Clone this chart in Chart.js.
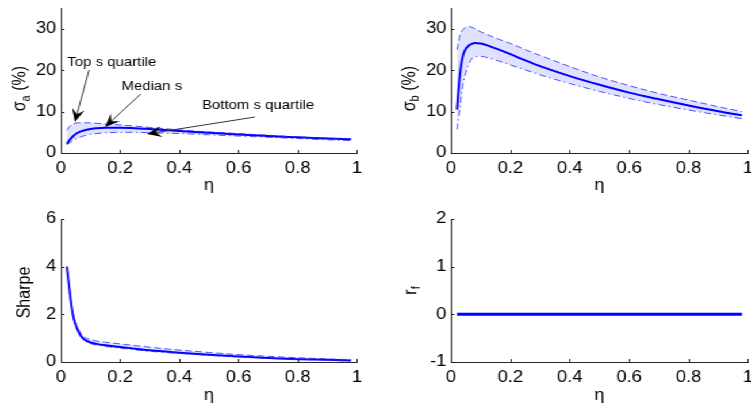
<!DOCTYPE html>
<html>
<head>
<meta charset="utf-8">
<script src="https://cdn.jsdelivr.net/npm/chart.js@4.4.0/dist/chart.umd.min.js"></script>
<style>
  html, body { margin: 0; padding: 0; background: #fff; overflow: hidden; }
  #fig { position: relative; width: 653px; height: 412px; transform: scaleX(1.15); transform-origin: 0 0; }
  #fig canvas { position: absolute; }
</style>
</head>
<body>
<div id="fig">
  <canvas id="sigmaA" width="326" height="202" style="left:0;top:0"></canvas>
  <canvas id="sigmaB" width="327" height="202" style="left:326px;top:0"></canvas>
  <canvas id="sharpe" width="326" height="210" style="left:0;top:202px"></canvas>
  <canvas id="rf" width="327" height="210" style="left:326px;top:202px"></canvas>
</div>
<script>
const eta = [0.02, 0.03, 0.04, 0.05, 0.06, 0.07, 0.08, 0.1, 0.12, 0.15, 0.2, 0.25, 0.3, 0.4, 0.5, 0.6, 0.7, 0.8, 0.9, 0.98];

const sigmaATop    = [5.5, 6.5, 7.0, 7.2, 7.3, 7.3, 7.3, 7.3, 7.2, 7.0, 6.8, 6.5, 6.2, 5.6, 5.1, 4.7, 4.3, 3.9, 3.6, 3.4];
const sigmaAMedian = [2.2, 3.2, 4.0, 4.6, 5.0, 5.3, 5.5, 5.8, 6.0, 6.1, 6.1, 6.0, 5.8, 5.3, 4.9, 4.5, 4.1, 3.8, 3.5, 3.3];
const sigmaABottom = [2.0, 2.5, 3.0, 3.4, 3.7, 4.0, 4.2, 4.5, 4.7, 4.9, 5.0, 5.0, 4.9, 4.7, 4.4, 4.1, 3.8, 3.5, 3.2, 3.0];

const sigmaBTop    = [25, 28.5, 29.8, 30.4, 30.6, 30.4, 30.1, 29.3, 28.7, 27.8, 26.5, 25.0, 23.6, 20.9, 18.4, 16.3, 14.4, 12.8, 11.2, 10.0];
const sigmaBMedian = [10.5, 19, 23.5, 25.2, 26.0, 26.4, 26.6, 26.5, 26.1, 25.3, 23.9, 22.4, 21.0, 18.6, 16.5, 14.6, 13.0, 11.5, 10.1, 9.1];
const sigmaBBottom = [5.7, 11, 16.5, 19.5, 21.5, 22.8, 23.3, 23.4, 23.1, 22.5, 21.3, 20.1, 18.9, 16.8, 14.9, 13.2, 11.7, 10.4, 9.2, 8.3];

const sharpeTop    = [4.0, 2.95, 2.1, 1.65, 1.35, 1.15, 1.03, 0.95, 0.88, 0.83, 0.76, 0.69, 0.62, 0.5, 0.4, 0.31, 0.24, 0.18, 0.13, 0.1];
const sharpeMedian = [4.0, 2.9, 2.0, 1.55, 1.25, 1.05, 0.93, 0.82, 0.76, 0.7, 0.63, 0.56, 0.49, 0.39, 0.3, 0.23, 0.17, 0.12, 0.09, 0.06];
const sharpeBottom = [3.95, 2.85, 1.95, 1.5, 1.2, 1.0, 0.88, 0.77, 0.71, 0.65, 0.58, 0.51, 0.45, 0.36, 0.28, 0.21, 0.15, 0.11, 0.07, 0.04];

const rfMedian = [0, 0, 0, 0, 0, 0, 0, 0, 0, 0, 0, 0, 0, 0, 0, 0, 0, 0, 0, 0];

const etaTicks = [0, 0.2, 0.4, 0.6, 0.8, 1];
const sigmaTicks = [0, 10, 20, 30];
const sharpeTicks = [0, 2, 4, 6];
const rfTicks = [-1, 0, 1, 2];

// labels on the sigma_a panel: text position, arrow tail and arrow tip (eta, sigma)
const noteText = ['Top s quartile', 'Median s', 'Bottom s quartile'];
const noteAt   = [[0.172, 21.8], [0.307, 16.0], [0.666, 11.4]];
const noteTail = [[0.095, 20.1], [0.27, 14.3], [0.655, 8.7]];
const noteTip  = [[0.047, 7.5], [0.149, 6.3], [0.29, 4.6]];

const FONT = '"Liberation Sans", Arial, Helvetica, sans-serif';
const axisColor = '#262626';
const textColor = '#000';
const lineBlue = '#0000ff';
const quartileBlue = 'rgba(40,40,255,0.8)';
const bandColor = 'rgba(0,0,255,0.12)';

Chart.defaults.font.family = FONT;

const axisExtras = {
  id: 'axisExtras',
  afterDraw(chart, args, o) {
    const ctx = chart.ctx, ca = chart.chartArea;
    const xs = chart.scales.x, ys = chart.scales.y;
    ctx.save();
    // inward tick marks
    ctx.strokeStyle = axisColor;
    ctx.lineWidth = 1;
    ctx.beginPath();
    xs.ticks.forEach((t, i) => {
      const px = Math.round(xs.getPixelForTick(i)) + 0.5;
      ctx.moveTo(px, ca.bottom); ctx.lineTo(px, ca.bottom - 3);
    });
    ys.ticks.forEach((t, i) => {
      const py = Math.round(ys.getPixelForTick(i)) + 0.5;
      ctx.moveTo(ca.left, py); ctx.lineTo(ca.left + 3, py);
    });
    ctx.stroke();

    // y title with subscript
    const parts = o.title;
    ctx.fillStyle = textColor;
    ctx.textBaseline = 'middle';
    ctx.textAlign = 'left';
    let total = 0;
    parts.forEach(p => {
      ctx.font = (p.sub ? '11px ' : '16px ') + FONT;
      p.w = ctx.measureText(p.text).width;
      total += p.w;
    });
    ctx.translate(ca.left - o.titleOffset, (ca.top + ca.bottom) / 2 + o.titleShift);
    ctx.rotate(-Math.PI / 2);
    let cx = -total / 2;
    parts.forEach(p => {
      ctx.font = (p.sub ? '11px ' : '16px ') + FONT;
      ctx.fillText(p.text, cx, p.sub ? 5 : 0);
      cx += p.w;
    });
    ctx.restore();

    if (!o.notes) return;
    ctx.save();
    noteText.forEach((txt, i) => {
      const tx = xs.getPixelForValue(noteTail[i][0]), ty = ys.getPixelForValue(noteTail[i][1]);
      const hx = xs.getPixelForValue(noteTip[i][0]), hy = ys.getPixelForValue(noteTip[i][1]);
      const len = Math.hypot(hx - tx, hy - ty);
      const ux = (hx - tx) / len, uy = (hy - ty) / len;
      const nx = -uy, ny = ux;
      const L = 13, half = 5.5, notch = 8;
      ctx.strokeStyle = '#333';
      ctx.lineWidth = 1;
      ctx.beginPath();
      ctx.moveTo(tx, ty);
      ctx.lineTo(hx - ux * notch, hy - uy * notch);
      ctx.stroke();
      ctx.fillStyle = '#000';
      ctx.beginPath();
      ctx.moveTo(hx, hy);
      ctx.lineTo(hx - ux * L + nx * half, hy - uy * L + ny * half);
      ctx.lineTo(hx - ux * notch, hy - uy * notch);
      ctx.lineTo(hx - ux * L - nx * half, hy - uy * L - ny * half);
      ctx.closePath();
      ctx.fill();

      ctx.font = '13px ' + FONT;
      ctx.textAlign = 'center';
      ctx.textBaseline = 'middle';
      ctx.fillText(txt, xs.getPixelForValue(noteAt[i][0]), ys.getPixelForValue(noteAt[i][1]));
    });
    ctx.restore();
  }
};

function panel(id, cfg) {
  const canvas = document.getElementById(id);
  const W = canvas.width, H = canvas.height;
  const a = cfg.area;
  const pts = ys => eta.map((x, i) => ({ x, y: ys[i] }));
  const datasets = [];
  if (cfg.top) {
    datasets.push({ data: pts(cfg.top), borderColor: quartileBlue, borderWidth: 1, borderDash: [6, 3],
      fill: '+1', backgroundColor: bandColor });
    datasets.push({ data: pts(cfg.bottom), borderColor: quartileBlue, borderWidth: 1, borderDash: [6, 3, 1.5, 3],
      fill: false });
  }
  datasets.push({ data: pts(cfg.median), borderColor: lineBlue, borderWidth: cfg.medianWidth || 2, fill: false });

  const tickFont = { size: 16, family: FONT };
  const plain = v => String(+Number(v).toFixed(2));
  return new Chart(canvas, {
    type: 'line',
    data: { datasets },
    options: {
      responsive: false,
      animation: false,
      layout: { padding: { left: 0, top: a.top, right: W - a.right, bottom: 0 } },
      elements: { point: { radius: 0 }, line: { cubicInterpolationMode: 'monotone' } },
      plugins: {
        legend: { display: false },
        tooltip: { enabled: false },
        axisExtras: { title: cfg.title, titleOffset: cfg.titleOffset, titleShift: cfg.titleShift, notes: !!cfg.notes }
      },
      scales: {
        x: {
          type: 'linear', min: 0, max: 1,
          afterBuildTicks: s => { s.ticks = etaTicks.map(v => ({ value: v })); },
          ticks: { color: textColor, font: tickFont, padding: 6, maxRotation: 0, autoSkip: false, callback: plain },
          grid: { drawOnChartArea: false, drawTicks: false },
          border: { color: axisColor, width: 1 },
          title: { display: true, text: 'η', color: textColor, font: { size: 16, family: FONT }, padding: { top: 0, bottom: 7 } },
          afterFit: s => { s.height = H - a.bottom; s.paddingLeft = 0; s.paddingRight = 0; }
        },
        y: {
          min: cfg.yMin, max: cfg.yMax,
          afterBuildTicks: s => { s.ticks = cfg.yTicks.map(v => ({ value: v })); },
          ticks: { color: textColor, font: tickFont, padding: 4, autoSkip: false, callback: plain },
          grid: { drawOnChartArea: false, drawTicks: false },
          border: { color: axisColor, width: 1 },
          afterFit: s => { s.width = a.left; s.paddingTop = 0; s.paddingBottom = 0; }
        }
      }
    },
    plugins: [axisExtras]
  });
}

panel('sigmaA', {
  area: { left: 53, right: 310.4, top: 8.3, bottom: 153 },
  top: sigmaATop, median: sigmaAMedian, bottom: sigmaABottom,
  yMin: 0, yMax: 35, yTicks: sigmaTicks,
  title: [{ text: 'σ' }, { text: 'a', sub: true }, { text: ' (%)' }], titleOffset: 35, titleShift: 8,
  notes: true
});

panel('sigmaB', {
  area: { left: 66.2, right: 324.4, top: 8.3, bottom: 153 },
  top: sigmaBTop, median: sigmaBMedian, bottom: sigmaBBottom,
  yMin: 0, yMax: 35, yTicks: sigmaTicks,
  title: [{ text: 'σ' }, { text: 'b', sub: true }, { text: ' (%)' }], titleOffset: 36, titleShift: 8
});

panel('sharpe', {
  area: { left: 53, right: 310.4, top: 17, bottom: 160 },
  top: sharpeTop, median: sharpeMedian, bottom: sharpeBottom,
  yMin: 0, yMax: 6, yTicks: sharpeTicks,
  title: [{ text: 'Sharpe' }], titleOffset: 31, titleShift: 2
});

panel('rf', {
  area: { left: 66.2, right: 324.4, top: 17, bottom: 160 },
  median: rfMedian, medianWidth: 3,
  yMin: -1, yMax: 2, yTicks: rfTicks,
  title: [{ text: 'r' }, { text: 'f', sub: true }], titleOffset: 35, titleShift: 0
});
</script>
</body>
</html>
